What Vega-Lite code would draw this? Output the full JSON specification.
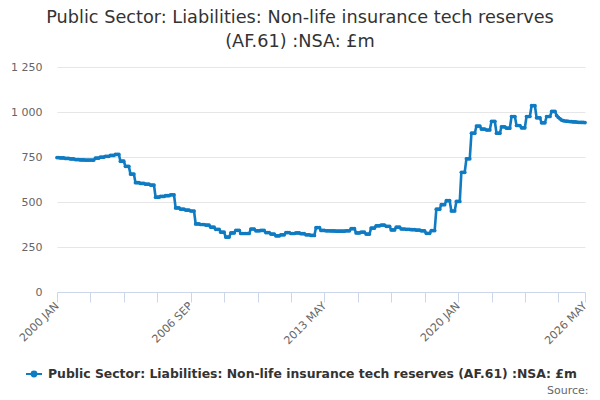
{
  "$schema": "https://vega.github.io/schema/vega-lite/v6.json",
  "width": 528,
  "height": 225,
  "autosize": {"type": "none"},
  "padding": {"left": 57, "top": 67, "right": 15, "bottom": 108},
  "background": "white",
  "title": {
    "text": ["Public Sector: Liabilities: Non-life insurance tech reserves", "(AF.61) :NSA: £m"],
    "font": "DejaVu Sans",
    "fontSize": 17.7,
    "fontWeight": "normal",
    "color": "#333333",
    "anchor": "middle",
    "frame": "group",
    "dx": -21,
    "offset": 10,
    "lineHeight": 24
  },
  "data": {
    "values": [
      {"d":"2000-01","v":747},{"d":"2000-02","v":747},{"d":"2000-03","v":745},{"d":"2000-04","v":745},{"d":"2000-05","v":745},{"d":"2000-06","v":742},{"d":"2000-07","v":742},{"d":"2000-08","v":742},{"d":"2000-09","v":739},{"d":"2000-10","v":739},{"d":"2000-11","v":739},{"d":"2000-12","v":736},
      {"d":"2001-01","v":736},{"d":"2001-02","v":736},{"d":"2001-03","v":734},{"d":"2001-04","v":734},{"d":"2001-05","v":734},{"d":"2001-06","v":733},{"d":"2001-07","v":733},{"d":"2001-08","v":733},{"d":"2001-09","v":733},{"d":"2001-10","v":733},{"d":"2001-11","v":733},{"d":"2001-12","v":744},
      {"d":"2002-01","v":744},{"d":"2002-02","v":744},{"d":"2002-03","v":749},{"d":"2002-04","v":749},{"d":"2002-05","v":749},{"d":"2002-06","v":754},{"d":"2002-07","v":754},{"d":"2002-08","v":754},{"d":"2002-09","v":759},{"d":"2002-10","v":759},{"d":"2002-11","v":759},{"d":"2002-12","v":764},
      {"d":"2003-01","v":764},{"d":"2003-02","v":764},{"d":"2003-03","v":727},{"d":"2003-04","v":727},{"d":"2003-05","v":727},{"d":"2003-06","v":698},{"d":"2003-07","v":698},{"d":"2003-08","v":698},{"d":"2003-09","v":655},{"d":"2003-10","v":655},{"d":"2003-11","v":655},{"d":"2003-12","v":607},
      {"d":"2004-01","v":607},{"d":"2004-02","v":607},{"d":"2004-03","v":603},{"d":"2004-04","v":603},{"d":"2004-05","v":603},{"d":"2004-06","v":599},{"d":"2004-07","v":599},{"d":"2004-08","v":599},{"d":"2004-09","v":594},{"d":"2004-10","v":594},{"d":"2004-11","v":594},{"d":"2004-12","v":527},
      {"d":"2005-01","v":527},{"d":"2005-02","v":527},{"d":"2005-03","v":531},{"d":"2005-04","v":531},{"d":"2005-05","v":531},{"d":"2005-06","v":535},{"d":"2005-07","v":535},{"d":"2005-08","v":535},{"d":"2005-09","v":540},{"d":"2005-10","v":540},{"d":"2005-11","v":540},{"d":"2005-12","v":467},
      {"d":"2006-01","v":467},{"d":"2006-02","v":467},{"d":"2006-03","v":460},{"d":"2006-04","v":460},{"d":"2006-05","v":460},{"d":"2006-06","v":455},{"d":"2006-07","v":455},{"d":"2006-08","v":455},{"d":"2006-09","v":450},{"d":"2006-10","v":450},{"d":"2006-11","v":450},{"d":"2006-12","v":378},
      {"d":"2007-01","v":378},{"d":"2007-02","v":378},{"d":"2007-03","v":375},{"d":"2007-04","v":375},{"d":"2007-05","v":375},{"d":"2007-06","v":372},{"d":"2007-07","v":372},{"d":"2007-08","v":372},{"d":"2007-09","v":360},{"d":"2007-10","v":360},{"d":"2007-11","v":360},{"d":"2007-12","v":348},
      {"d":"2008-01","v":348},{"d":"2008-02","v":348},{"d":"2008-03","v":332},{"d":"2008-04","v":332},{"d":"2008-05","v":332},{"d":"2008-06","v":305},{"d":"2008-07","v":305},{"d":"2008-08","v":305},{"d":"2008-09","v":328},{"d":"2008-10","v":328},{"d":"2008-11","v":328},{"d":"2008-12","v":343},
      {"d":"2009-01","v":343},{"d":"2009-02","v":343},{"d":"2009-03","v":325},{"d":"2009-04","v":325},{"d":"2009-05","v":325},{"d":"2009-06","v":325},{"d":"2009-07","v":325},{"d":"2009-08","v":325},{"d":"2009-09","v":350},{"d":"2009-10","v":350},{"d":"2009-11","v":350},{"d":"2009-12","v":340},
      {"d":"2010-01","v":340},{"d":"2010-02","v":340},{"d":"2010-03","v":342},{"d":"2010-04","v":342},{"d":"2010-05","v":342},{"d":"2010-06","v":330},{"d":"2010-07","v":330},{"d":"2010-08","v":330},{"d":"2010-09","v":322},{"d":"2010-10","v":322},{"d":"2010-11","v":322},{"d":"2010-12","v":312},
      {"d":"2011-01","v":312},{"d":"2011-02","v":312},{"d":"2011-03","v":318},{"d":"2011-04","v":318},{"d":"2011-05","v":318},{"d":"2011-06","v":330},{"d":"2011-07","v":330},{"d":"2011-08","v":330},{"d":"2011-09","v":325},{"d":"2011-10","v":325},{"d":"2011-11","v":325},{"d":"2011-12","v":328},
      {"d":"2012-01","v":328},{"d":"2012-02","v":328},{"d":"2012-03","v":324},{"d":"2012-04","v":324},{"d":"2012-05","v":324},{"d":"2012-06","v":318},{"d":"2012-07","v":318},{"d":"2012-08","v":318},{"d":"2012-09","v":314},{"d":"2012-10","v":314},{"d":"2012-11","v":314},{"d":"2012-12","v":358},
      {"d":"2013-01","v":358},{"d":"2013-02","v":358},{"d":"2013-03","v":342},{"d":"2013-04","v":342},{"d":"2013-05","v":342},{"d":"2013-06","v":340},{"d":"2013-07","v":340},{"d":"2013-08","v":340},{"d":"2013-09","v":339},{"d":"2013-10","v":339},{"d":"2013-11","v":339},{"d":"2013-12","v":338},
      {"d":"2014-01","v":338},{"d":"2014-02","v":338},{"d":"2014-03","v":338},{"d":"2014-04","v":338},{"d":"2014-05","v":338},{"d":"2014-06","v":340},{"d":"2014-07","v":340},{"d":"2014-08","v":340},{"d":"2014-09","v":352},{"d":"2014-10","v":352},{"d":"2014-11","v":352},{"d":"2014-12","v":328},
      {"d":"2015-01","v":328},{"d":"2015-02","v":328},{"d":"2015-03","v":332},{"d":"2015-04","v":332},{"d":"2015-05","v":332},{"d":"2015-06","v":322},{"d":"2015-07","v":322},{"d":"2015-08","v":322},{"d":"2015-09","v":355},{"d":"2015-10","v":355},{"d":"2015-11","v":355},{"d":"2015-12","v":368},
      {"d":"2016-01","v":368},{"d":"2016-02","v":368},{"d":"2016-03","v":372},{"d":"2016-04","v":372},{"d":"2016-05","v":372},{"d":"2016-06","v":365},{"d":"2016-07","v":365},{"d":"2016-08","v":365},{"d":"2016-09","v":345},{"d":"2016-10","v":345},{"d":"2016-11","v":345},{"d":"2016-12","v":360},
      {"d":"2017-01","v":360},{"d":"2017-02","v":360},{"d":"2017-03","v":350},{"d":"2017-04","v":350},{"d":"2017-05","v":350},{"d":"2017-06","v":348},{"d":"2017-07","v":348},{"d":"2017-08","v":348},{"d":"2017-09","v":346},{"d":"2017-10","v":346},{"d":"2017-11","v":346},{"d":"2017-12","v":344},
      {"d":"2018-01","v":344},{"d":"2018-02","v":344},{"d":"2018-03","v":340},{"d":"2018-04","v":340},{"d":"2018-05","v":340},{"d":"2018-06","v":326},{"d":"2018-07","v":326},{"d":"2018-08","v":326},{"d":"2018-09","v":341},{"d":"2018-10","v":341},{"d":"2018-11","v":341},{"d":"2018-12","v":460},
      {"d":"2019-01","v":460},{"d":"2019-02","v":460},{"d":"2019-03","v":485},{"d":"2019-04","v":485},{"d":"2019-05","v":485},{"d":"2019-06","v":507},{"d":"2019-07","v":507},{"d":"2019-08","v":507},{"d":"2019-09","v":450},{"d":"2019-10","v":450},{"d":"2019-11","v":450},{"d":"2019-12","v":503},
      {"d":"2020-01","v":503},{"d":"2020-02","v":503},{"d":"2020-03","v":665},{"d":"2020-04","v":665},{"d":"2020-05","v":665},{"d":"2020-06","v":740},{"d":"2020-07","v":740},{"d":"2020-08","v":740},{"d":"2020-09","v":882},{"d":"2020-10","v":882},{"d":"2020-11","v":882},{"d":"2020-12","v":922},
      {"d":"2021-01","v":922},{"d":"2021-02","v":922},{"d":"2021-03","v":905},{"d":"2021-04","v":905},{"d":"2021-05","v":905},{"d":"2021-06","v":900},{"d":"2021-07","v":900},{"d":"2021-08","v":900},{"d":"2021-09","v":948},{"d":"2021-10","v":948},{"d":"2021-11","v":948},{"d":"2021-12","v":882},
      {"d":"2022-01","v":882},{"d":"2022-02","v":882},{"d":"2022-03","v":918},{"d":"2022-04","v":918},{"d":"2022-05","v":918},{"d":"2022-06","v":910},{"d":"2022-07","v":910},{"d":"2022-08","v":910},{"d":"2022-09","v":975},{"d":"2022-10","v":975},{"d":"2022-11","v":975},{"d":"2022-12","v":925},
      {"d":"2023-01","v":925},{"d":"2023-02","v":925},{"d":"2023-03","v":912},{"d":"2023-04","v":912},{"d":"2023-05","v":912},{"d":"2023-06","v":975},{"d":"2023-07","v":975},{"d":"2023-08","v":975},{"d":"2023-09","v":1035},{"d":"2023-10","v":1035},{"d":"2023-11","v":1035},{"d":"2023-12","v":968},
      {"d":"2024-01","v":968},{"d":"2024-02","v":968},{"d":"2024-03","v":940},{"d":"2024-04","v":940},{"d":"2024-05","v":940},{"d":"2024-06","v":975},{"d":"2024-07","v":975},{"d":"2024-08","v":975},{"d":"2024-09","v":1003},{"d":"2024-10","v":1003},{"d":"2024-11","v":1003},{"d":"2024-12","v":980},
      {"d":"2025-01","v":970},{"d":"2025-02","v":962},{"d":"2025-03","v":955},{"d":"2025-04","v":952},{"d":"2025-05","v":950},{"d":"2025-06","v":949},{"d":"2025-07","v":948},{"d":"2025-08","v":947},{"d":"2025-09","v":946},{"d":"2025-10","v":945},{"d":"2025-11","v":945},{"d":"2025-12","v":944},
      {"d":"2026-01","v":943},{"d":"2026-02","v":943},{"d":"2026-03","v":942},{"d":"2026-04","v":942},{"d":"2026-05","v":941}
    ]
  },
  "mark": {"type": "line", "strokeWidth": 2.6, "point": {"filled": true, "size": 14}},
  "encoding": {
    "x": {
      "field": "d",
      "type": "temporal",
      "scale": {
        "type": "utc",
        "domain": [
          {"year": 2000, "month": 1, "date": 1, "utc": true},
          {"year": 2026, "month": 5, "date": 1, "utc": true}
        ]
      },
      "axis": {
        "values": [
          {"year": 2000, "month": 1, "date": 1, "utc": true},
          {"year": 2001, "month": 9, "date": 1, "utc": true},
          {"year": 2003, "month": 5, "date": 1, "utc": true},
          {"year": 2005, "month": 1, "date": 1, "utc": true},
          {"year": 2006, "month": 9, "date": 1, "utc": true},
          {"year": 2008, "month": 5, "date": 1, "utc": true},
          {"year": 2010, "month": 1, "date": 1, "utc": true},
          {"year": 2011, "month": 9, "date": 1, "utc": true},
          {"year": 2013, "month": 5, "date": 1, "utc": true},
          {"year": 2015, "month": 1, "date": 1, "utc": true},
          {"year": 2016, "month": 9, "date": 1, "utc": true},
          {"year": 2018, "month": 5, "date": 1, "utc": true},
          {"year": 2020, "month": 1, "date": 1, "utc": true},
          {"year": 2021, "month": 9, "date": 1, "utc": true},
          {"year": 2023, "month": 5, "date": 1, "utc": true},
          {"year": 2025, "month": 1, "date": 1, "utc": true},
          {"year": 2026, "month": 5, "date": 1, "utc": true}
        ],
        "labelExpr": "indexof(['2000-01','2006-09','2013-05','2020-01','2026-05'], utcFormat(datum.value, '%Y-%m')) >= 0 ? upper(utcFormat(datum.value, '%Y %b')) : ''",
        "labelAngle": -45,
        "labelAlign": "right",
        "labelBaseline": "middle",
        "labelFontSize": 11,
        "labelColor": "#666666",
        "labelPadding": 2,
        "labelOverlap": false,
        "labelFlush": false,
        "labelBound": false,
        "tickSize": 10,
        "tickColor": "#ccd6eb",
        "domainColor": "#ccd6eb",
        "grid": false,
        "title": "Source:",
        "titleAnchor": "end",
        "titleAlign": "right",
        "titleFontSize": 11,
        "titleFontWeight": "normal",
        "titleColor": "#666666",
        "titleX": 531,
        "titleY": 98,
        "titleBaseline": "middle"
      }
    },
    "y": {
      "field": "v",
      "type": "quantitative",
      "scale": {"domain": [0, 1250]},
      "axis": {
        "title": null,
        "values": [0, 250, 500, 750, 1000, 1250],
        "labelExpr": "replace(format(datum.value, ','), ',', ' ')",
        "domain": false,
        "ticks": false,
        "labelPadding": 15,
        "labelFontSize": 11,
        "labelColor": "#666666",
        "gridColor": "#e6e6e6"
      }
    },
    "color": {
      "datum": "Public Sector: Liabilities: Non-life insurance tech reserves (AF.61) :NSA: £m",
      "scale": {"range": ["#0f7bc2"]},
      "legend": {
        "orient": "none",
        "legendX": -32,
        "legendY": 298,
        "direction": "horizontal",
        "title": null,
        "padding": 0,
        "labelFontSize": 12.4,
        "labelFontWeight": "bold",
        "labelColor": "#333333",
        "labelLimit": 0,
        "labelOffset": 5,
        "symbolType": "M-1,0L1,0M-0.3,0a0.3,0.3 0 1,0 0.6,0a0.3,0.3 0 1,0 -0.6,0",
        "symbolSize": 256,
        "symbolStrokeWidth": 2,
        "symbolFillColor": "#0f7bc2",
        "symbolStrokeColor": "#0f7bc2"
      }
    }
  },
  "config": {
    "view": {"stroke": null},
    "font": "DejaVu Sans"
  }
}
